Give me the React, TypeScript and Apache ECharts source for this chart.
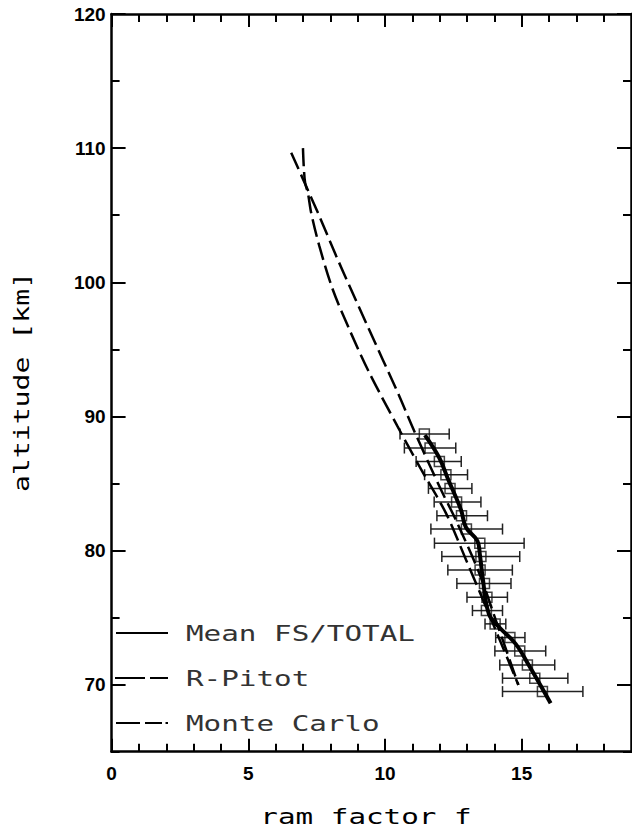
import React, { useEffect, useRef } from 'react';
import * as echarts from 'echarts';

// Observed points (altitude in km, ram factor f, horizontal error range)
const obsAlt = [88.69, 87.64, 86.64, 85.65, 84.63, 83.61, 82.59, 81.6, 80.55, 79.55, 78.54, 77.54, 76.52, 75.52, 74.53, 73.51, 72.51, 71.47, 70.48, 69.48];
const obsF = [11.44, 11.65, 11.99, 12.23, 12.38, 12.62, 12.8, 12.98, 13.47, 13.51, 13.48, 13.64, 13.73, 13.71, 14.03, 14.57, 14.93, 15.21, 15.48, 15.76];
const errLow = [10.55, 10.71, 11.14, 11.45, 11.59, 11.8, 11.9, 11.68, 11.81, 12.08, 12.3, 12.63, 13.0, 13.2, 13.66, 14.05, 14.02, 14.2, 14.3, 14.3];
const errHigh = [12.35, 12.59, 12.79, 13.02, 13.18, 13.51, 13.75, 14.3, 15.09, 14.93, 14.66, 14.61, 14.48, 14.3, 14.42, 15.12, 15.88, 16.21, 16.69, 17.24];

// Mean FS/TOTAL curve
const meanCurveF = [11.46, 11.99, 12.29, 12.78, 12.96, 13.38, 13.47, 13.57, 13.8, 14.18, 14.78, 15.27, 16.06];
const meanCurveAlt = [88.6, 86.9, 85.4, 83.04, 81.73, 80.72, 79.72, 78.06, 75.27, 74.28, 73.04, 71.42, 68.61];

// R-Pitot curve
const pitotF = [6.57, 7.06, 7.6, 8.22, 8.76, 9.31, 9.92, 10.53, 11.05, 12.05, 12.59, 13.45, 14.05, 14.88];
const pitotAlt = [109.66, 107.42, 104.93, 101.94, 99.46, 96.97, 94.23, 91.49, 89.0, 84.53, 82.29, 78.31, 74.83, 69.98];

// Monte Carlo curve
const mcF = [7.0, 7.03, 7.08, 7.18, 7.3, 7.6, 8.09, 8.7, 9.43, 10.46, 11.26, 12.23, 12.96, 13.9, 14.88];
const mcAlt = [110.0, 108.6, 107.4, 106.67, 105.18, 102.69, 99.46, 96.47, 93.24, 89.25, 86.27, 82.79, 79.33, 74.8, 69.98];

const xMajor = [0, 5, 10, 15];
const xMinor = [1, 2, 3, 4, 6, 7, 8, 9, 11, 12, 13, 14, 16, 17, 18];
const yMajor = [70, 80, 90, 100, 110, 120];
const yMinor = [65, 75, 85, 95, 105, 115];

const legendNames = ['Mean FS/TOTAL', 'R-Pitot', 'Monte Carlo'];
const xTitle = 'ram factor f';
const yTitle = 'altitude [km]';

export default function App() {
  const ref = useRef<HTMLDivElement>(null);
  useEffect(() => {
    const chart = echarts.init(ref.current!, null, { renderer: 'svg' });
    const font = 'Liberation Sans, Arial, sans-serif';
    const mono = 'DejaVu Sans Mono, monospace';
    const tickStyle = { color: '#000', width: 2 };
    const axisLine = { show: true, onZero: false, lineStyle: { color: '#000', width: 2.5 } };
    const labelStyle = { fontSize: 19, fontWeight: 'bold', color: '#000', fontFamily: font };

    const xAx = (position: string, major: boolean, showLine: boolean, showLabel: boolean) => ({
      type: 'value', min: 0, max: 19, position,
      splitLine: { show: false },
      axisLine: showLine ? axisLine : { show: false, onZero: false },
      axisTick: { show: true, inside: true, length: major ? 13 : 8, customValues: major ? xMajor : xMinor, lineStyle: tickStyle },
      axisLabel: showLabel ? { show: true, customValues: xMajor, margin: 12, ...labelStyle } : { show: false },
    });
    const yAx = (position: string, major: boolean, showLine: boolean, showLabel: boolean) => ({
      type: 'value', min: 65, max: 120, position,
      splitLine: { show: false },
      axisLine: showLine ? axisLine : { show: false, onZero: false },
      axisTick: { show: true, inside: true, length: major ? 14 : 8, customValues: major ? yMajor : yMinor, lineStyle: tickStyle },
      axisLabel: showLabel ? { show: true, customValues: yMajor, margin: 6, ...labelStyle } : { show: false },
    });

    const errData = obsAlt.map((a, i) => [errLow[i], errHigh[i], a]);
    const pts = (xs: number[], ys: number[]) => xs.map((x, i) => [x, ys[i]]);

    const legendY = [633, 678, 723];
    const gfx: any[] = [
      { type: 'line', shape: { x1: 116, y1: legendY[0], x2: 168, y2: legendY[0] }, style: { stroke: '#000', lineWidth: 2 } },
      { type: 'line', shape: { x1: 115, y1: legendY[1], x2: 145, y2: legendY[1] }, style: { stroke: '#000', lineWidth: 2 } },
      { type: 'line', shape: { x1: 150, y1: legendY[1], x2: 168, y2: legendY[1] }, style: { stroke: '#000', lineWidth: 2 } },
      { type: 'line', shape: { x1: 116, y1: legendY[2], x2: 140, y2: legendY[2] }, style: { stroke: '#000', lineWidth: 2 } },
      { type: 'line', shape: { x1: 145, y1: legendY[2], x2: 162, y2: legendY[2] }, style: { stroke: '#000', lineWidth: 2 } },
      { type: 'line', shape: { x1: 165.5, y1: legendY[2], x2: 168, y2: legendY[2] }, style: { stroke: '#000', lineWidth: 2 } },
    ];
    legendNames.forEach((n, i) => {
      gfx.push({
        type: 'text', x: 186, y: legendY[i], scaleX: 1.33,
        style: { text: n, fontFamily: mono, fontSize: 22, fill: '#333', textAlign: 'left', textVerticalAlign: 'middle' },
      });
    });
    gfx.push({
      type: 'text', x: 366, y: 816, scaleX: 1.33,
      style: { text: xTitle, fontFamily: mono, fontSize: 22, fill: '#000', textAlign: 'center', textVerticalAlign: 'middle' },
    });
    gfx.push({
      type: 'text', x: 22, y: 382, rotation: Math.PI / 2, scaleX: 1.28,
      style: { text: yTitle, fontFamily: mono, fontSize: 22, fill: '#000', textAlign: 'center', textVerticalAlign: 'middle' },
    });

    chart.setOption({
      animation: false,
      backgroundColor: '#fff',
      grid: { left: 111.6, right: 1, top: 14, bottom: 79.3, containLabel: false },
      xAxis: [xAx('bottom', true, true, true), xAx('bottom', false, false, false), xAx('top', true, true, false), xAx('top', false, false, false)],
      yAxis: [yAx('left', true, true, true), yAx('left', false, false, false), yAx('right', true, true, false), yAx('right', false, false, false)],
      graphic: gfx,
      series: [
        {
          type: 'custom', name: 'error', xAxisIndex: 0, yAxisIndex: 0,
          data: errData,
          renderItem: (params: any, api: any) => {
            const p1 = api.coord([api.value(0), api.value(2)]);
            const p2 = api.coord([api.value(1), api.value(2)]);
            const h = 5.5;
            const st = { stroke: '#222', lineWidth: 1.5 };
            return {
              type: 'group',
              children: [
                { type: 'line', shape: { x1: p1[0], y1: p1[1], x2: p2[0], y2: p2[1] }, style: st },
                { type: 'line', shape: { x1: p1[0], y1: p1[1] - h, x2: p1[0], y2: p1[1] + h }, style: st },
                { type: 'line', shape: { x1: p2[0], y1: p2[1] - h, x2: p2[0], y2: p2[1] + h }, style: st },
              ],
            };
          },
          z: 2,
        },
        {
          type: 'scatter', name: 'obs', xAxisIndex: 0, yAxisIndex: 0,
          data: pts(obsF, obsAlt), symbol: 'rect', symbolSize: 10,
          itemStyle: { color: 'rgba(0,0,0,0)', borderColor: '#111', borderWidth: 1.5 },
          z: 3,
        },
        {
          type: 'line', name: legendNames[1], xAxisIndex: 0, yAxisIndex: 0,
          data: pts(pitotF, pitotAlt), smooth: 0.3, symbol: 'none',
          lineStyle: { color: '#000', width: 2.5, type: [18, 6] }, z: 4,
        },
        {
          type: 'line', name: legendNames[2], xAxisIndex: 0, yAxisIndex: 0,
          data: pts(mcF, mcAlt), smooth: 0.3, symbol: 'none',
          lineStyle: { color: '#000', width: 2.5, type: [18, 6] }, z: 4,
        },
        {
          type: 'line', name: legendNames[0], xAxisIndex: 0, yAxisIndex: 0,
          data: pts(meanCurveF, meanCurveAlt), smooth: 0.4, symbol: 'none',
          lineStyle: { color: '#000', width: 4 }, z: 5,
        },
      ],
    });
    return () => chart.dispose();
  }, []);
  return <div ref={ref} style={{ position: 'absolute', left: 0, top: 0, width: 632, height: 831 }} />;
}
